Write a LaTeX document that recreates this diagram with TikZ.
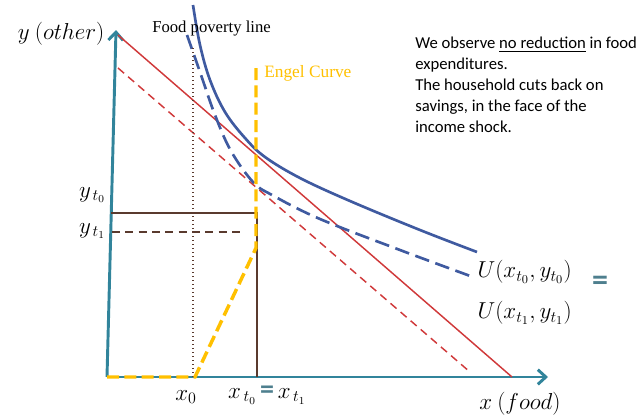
\documentclass[tikz,border=0pt]{standalone}
\usepackage{fontspec}
\setmainfont{Carlito}
\newfontfamily\capserif{Liberation Serif}
\usepackage{tikz}
\usetikzlibrary{arrows.meta,positioning}
\definecolor{axisteal}{HTML}{31849B}
\definecolor{budgetred}{HTML}{D0393A}
\definecolor{utilblue}{HTML}{3F5AA0}
\definecolor{engelgold}{HTML}{FFC000}
\definecolor{guidebrown}{HTML}{5A3A2E}
\definecolor{eqgray}{HTML}{4E7F8E}
\newcommand{\eqbar}{\textcolor{eqgray}{\textbf{=}}}

\begin{document}
\begin{tikzpicture}[x=0.75pt, y=-0.75pt,
  axis/.style={draw=axisteal, line width=2.2pt, -{Straight Barb[length=6pt,width=11pt]}},
  budget/.style={draw=budgetred, line width=1.1pt},
  util/.style={draw=utilblue, line width=2pt},
  engel/.style={draw=engelgold, line width=2.6pt, dash pattern=on 9pt off 4pt},
  guide/.style={draw=guidebrown, line width=1pt},
  mlabel/.style={font=\fontsize{17}{19}\selectfont, inner sep=1pt},
  ulabel/.style={font=\fontsize{18}{20}\selectfont, inner sep=1pt}
]
\useasboundingbox (0,0) rectangle (640,419);

% axes
\coordinate (origin) at (107,377);
\coordinate (ytip) at (116,30);
\coordinate (xtip) at (548,377);
\draw[axis] (origin) -- (ytip);
\draw[axis] (origin) -- (xtip);

% budget lines
\coordinate (b0top) at (118,35);
\coordinate (b0bot) at (512,377);
\coordinate (b1top) at (118,68);
\coordinate (b1bot) at (470,372);
\draw[budget] (b0top) -- (b0bot);
\draw[budget, dash pattern=on 6pt off 4pt] (b1top) -- (b1bot);

% indifference curves
\draw[util] plot[smooth, tension=0.6] coordinates {(193,5) (200,45) (210,80) (225,112) (245,138) (265,157) (300,178) (350,201) (420,230) (477,252)};
\draw[util, dash pattern=on 11pt off 5pt] plot[smooth, tension=0.6] coordinates {(187,35) (200,72) (215,115) (231,151) (253,182) (272,195) (320,219) (400,250) (473,277)};

% food poverty line
\coordinate (fpltop) at (193,48);
\coordinate (fplbot) at (193,377);
\draw[guidebrown, line width=1pt, dotted] (fpltop) -- (fplbot);
\node[font=\capserif\fontsize{12.5}{14}\selectfont, anchor=base west, inner sep=0pt] (fpl) at (152,32) {Food poverty line};

% chosen bundles
\coordinate (yt0) at (111,213);
\coordinate (yt1) at (112,232);
\coordinate (opt) at (257,213);
\coordinate (xt0) at (257,377);
\draw[guide] (yt0) -- (opt) -- (xt0);
\draw[guide, dash pattern=on 6pt off 4pt] (yt1) -- (240,232);

% Engel curve
\coordinate (e0) at (195,377);
\coordinate (ekink) at (256,248);
\coordinate (etop) at (256,68);
\draw[engel] (origin) -- (e0) -- (ekink) -- (etop);
\node[font=\capserif\fontsize{13}{15}\selectfont, text=engelgold, anchor=base west, inner sep=0pt] (engel) at (264,77) {Engel Curve};

% axis labels
\node[mlabel, anchor=east] (ylab) at (106,34) {$y\ (other)$};
\node[mlabel, anchor=center] (xlab) at (520,404) {$x\ (food)$};
\node[mlabel, anchor=east] (yt0lab) at (107,195) {$y_{\,t_0}$};
\node[mlabel, anchor=east] (yt1lab) at (107,231) {$y_{\,t_1}$};
\node[mlabel, anchor=center] (x0lab) at (186,397) {$x_0$};
\node[mlabel, anchor=center] (xtlab) at (267,395) {$x_{\,t_0}$\,{\fontsize{21}{21}\selectfont\eqbar}\,$x_{\,t_1}$};

% utility labels
\node[ulabel, anchor=west] (u0lab) at (476,272) {$U\bigl(x_{t_0},y_{t_0}\bigr)$};
\node[ulabel, anchor=west] (u1lab) at (476,313) {$U\bigl(x_{t_1},y_{t_1}\bigr)$};
\node[font=\fontsize{24}{24}\selectfont, inner sep=0pt] (ueq) at (600,283) {\eqbar};

% note
\node[anchor=north west, align=left, font=\fontsize{12.5}{15.6}\selectfont, inner sep=0pt] (note) at (415,37)
  {We observe \underline{no reduction} in food\\expenditures.\\The household cuts back on\\savings, in the face of the\\income shock.};
\end{tikzpicture}
\end{document}
